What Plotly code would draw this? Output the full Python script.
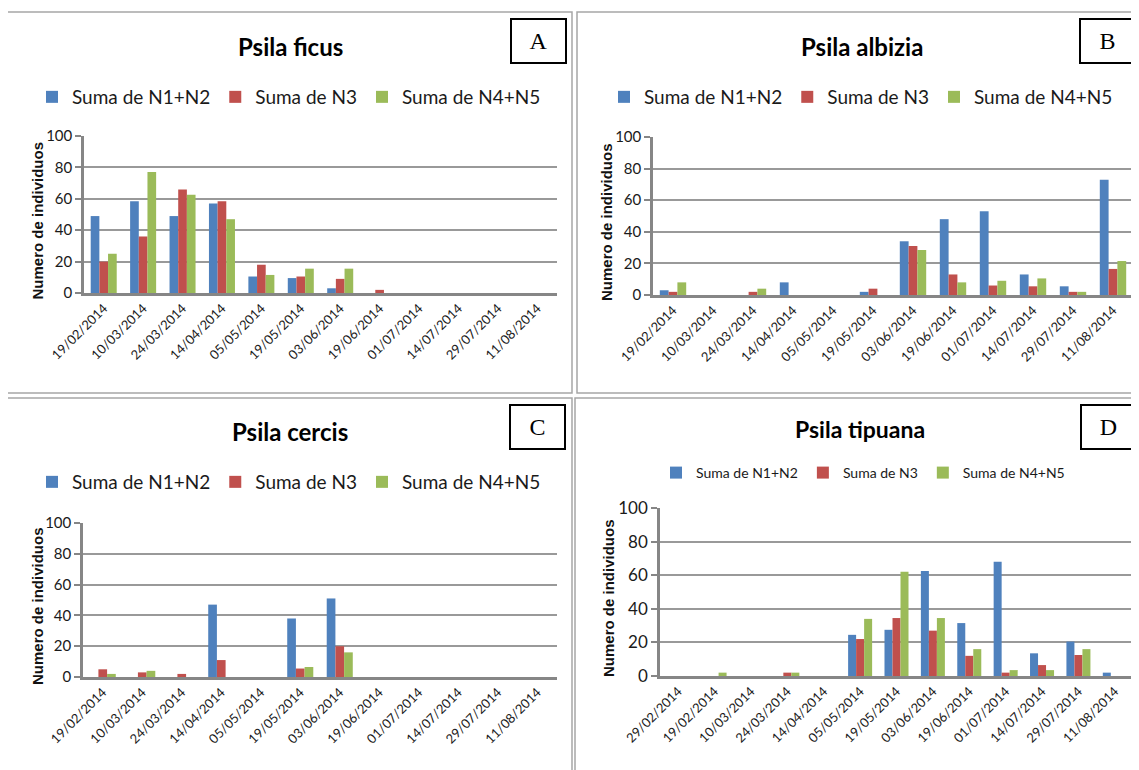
import plotly.graph_objects as go

W, H = 1139, 770
OFF = 8  # the page body adds an 8px margin around the figure

# ---------------- data ----------------
dates_abc = ["19/02/2014", "10/03/2014", "24/03/2014", "14/04/2014", "05/05/2014", "19/05/2014",
             "03/06/2014", "19/06/2014", "01/07/2014", "14/07/2014", "29/07/2014", "11/08/2014"]
dates_d = ["29/02/2014", "19/02/2014", "10/03/2014", "24/03/2014", "14/04/2014", "05/05/2014",
           "19/05/2014", "03/06/2014", "19/06/2014", "01/07/2014", "14/07/2014", "29/07/2014", "11/08/2014"]

series_names = ["Suma de N1+N2", "Suma de N3", "Suma de N4+N5"]
y_ticks = [0, 20, 40, 60, 80, 100]

ficus_n1n2 = [49, 58.5, 49, 57, 10.5, 9.5, 3, 0, 0, 0, 0, 0]
ficus_n3 = [20, 36, 66, 58.5, 18, 10.5, 9, 2, 0, 0, 0, 0]
ficus_n4n5 = [25, 77, 62.5, 47, 11.5, 15.5, 15.5, 0, 0, 0, 0, 0]

albizia_n1n2 = [3, 0, 0, 8, 0, 2, 34, 48, 53, 13, 5.5, 73]
albizia_n3 = [2, 0, 2, 0, 0, 4, 31, 13, 6, 5.5, 2, 16.5]
albizia_n4n5 = [8, 0, 4, 0, 0, 0, 28.5, 8, 9, 10.5, 2, 21.5]

cercis_n1n2 = [0, 0, 0, 47, 0, 38, 51, 0, 0, 0, 0, 0]
cercis_n3 = [5, 3, 2, 11, 0, 5.5, 20, 0, 0, 0, 0, 0]
cercis_n4n5 = [2, 4, 0, 0, 0, 6.5, 16, 0, 0, 0, 0, 0]

tipuana_n1n2 = [0, 0, 0, 0, 0, 24.5, 27.5, 62.5, 31.5, 68, 13.5, 20.5, 2]
tipuana_n3 = [0, 0, 0, 2, 0, 22, 34.5, 27, 12, 2, 6.5, 12.5, 0]
tipuana_n4n5 = [0, 2, 0, 2, 0, 34, 62, 34.5, 16, 3.5, 3.5, 16, 0]

# ---------------- styling ----------------
colors = ["#4F81BD", "#C0504D", "#9BBB59"]
FONT = "Lato, Liberation Sans, Arial, sans-serif"
SANS = "Liberation Sans, Arial, sans-serif"
SERIF = "Liberation Serif, Times New Roman, serif"
GRID = "#999999"
AXIS = "#868686"


def px_x(v):
    return (v - OFF) / W


def px_y(v):
    return 1 - (v - OFF) / H


panels = [
    dict(title="Psila ficus", cats=dates_abc, vals=[ficus_n1n2, ficus_n3, ficus_n4n5],
         area=(84, 557, 136, 293), title_xy=(290, 46), title_size=24,
         letter="A", letter_xy=(538, 41.5), legend_xy=(32, 97), legend_size=19,
         tick_size=13, ytick_size=15, ytitle_x=37, frame=(7, 12, 572, 393)),
    dict(title="Psila albizia", cats=dates_abc, vals=[albizia_n1n2, albizia_n3, albizia_n4n5],
         area=(653, 1133, 137, 295), title_xy=(862, 46), title_size=24,
         letter="B", letter_xy=(1107, 41.5), legend_xy=(604, 97), legend_size=19,
         tick_size=13, ytick_size=15, ytitle_x=606, frame=(577, 12, 1150, 393)),
    dict(title="Psila cercis", cats=dates_abc, vals=[cercis_n1n2, cercis_n3, cercis_n4n5],
         area=(83, 557, 523, 677), title_xy=(290, 431), title_size=24,
         letter="C", letter_xy=(537, 427), legend_xy=(32, 482), legend_size=19,
         tick_size=13, ytick_size=15, ytitle_x=37, frame=(7, 398, 572, 790)),
    dict(title="Psila tipuana", cats=dates_d, vals=[tipuana_n1n2, tipuana_n3, tipuana_n4n5],
         area=(660, 1133, 508, 676), title_xy=(860, 429), title_size=23,
         letter="D", letter_xy=(1108, 427), legend_xy=(656, 473), legend_size=14,
         tick_size=13, ytick_size=17, ytitle_x=608, frame=(575, 398, 1150, 790)),
]

fig = go.Figure()
layout = dict(
    width=W, height=H, margin=dict(l=0, r=0, t=0, b=0, autoexpand=False),
    paper_bgcolor="white", plot_bgcolor="white",
    barmode="group", bargap=0.34, bargroupgap=0,
    showlegend=True, annotations=[], shapes=[],
)

for i, p in enumerate(panels):
    n = i + 1
    xa = "x" if n == 1 else f"x{n}"
    ya = "y" if n == 1 else f"y{n}"
    lg = "legend" if n == 1 else f"legend{n}"
    for s in range(3):
        fig.add_trace(go.Bar(
            x=p["cats"], y=p["vals"][s], name=series_names[s],
            marker=dict(color=colors[s], line=dict(width=0)),
            xaxis=xa, yaxis=ya, legend=lg,
        ))
    x0, x1, y0, y1 = p["area"]
    layout["xaxis" if n == 1 else f"xaxis{n}"] = dict(
        domain=[px_x(x0), px_x(x1)], anchor=ya, type="category", automargin=False,
        categoryorder="array", categoryarray=p["cats"],
        showline=True, linecolor=AXIS, linewidth=2.5, showgrid=False,
        ticks="", tickangle=-45,
        tickfont=dict(family=FONT, size=p["tick_size"], color="#1a1a1a"),
    )
    layout["yaxis" if n == 1 else f"yaxis{n}"] = dict(
        domain=[px_y(y1), px_y(y0)], anchor=xa, range=[0, 100], automargin=False,
        tickvals=y_ticks, showline=True, linecolor=AXIS, linewidth=2.5,
        showgrid=True, gridcolor=GRID, gridwidth=1.5, zeroline=False,
        ticks="outside", ticklen=6, tickcolor=AXIS, tickwidth=1.5,
        tickfont=dict(family=FONT, size=p["ytick_size"], color="#1a1a1a"),
    )
    # y-axis title
    layout["annotations"].append(dict(
        text="<b>Numero de individuos</b>", textangle=-90,
        x=px_x(p["ytitle_x"]), y=px_y((y0 + y1) / 2 + 6), xref="paper", yref="paper",
        showarrow=False, xanchor="center", yanchor="middle",
        font=dict(family=SANS, size=15, color="#111111"),
    ))
    lx, ly = p["legend_xy"]
    layout[lg] = dict(
        orientation="h", x=px_x(lx), y=px_y(ly), xanchor="left", yanchor="middle",
        bgcolor="rgba(0,0,0,0)", borderwidth=0,
        font=dict(family=FONT, size=p["legend_size"], color="#1a1a1a"),
        traceorder="normal",
    )
    tx, ty = p["title_xy"]
    layout["annotations"].append(dict(
        text=f"<b>{p['title']}</b>", x=px_x(tx), y=px_y(ty), xref="paper", yref="paper",
        showarrow=False, xanchor="center", yanchor="middle",
        font=dict(family=FONT, size=p["title_size"], color="#000000"),
    ))
    bx, by = p["letter_xy"]
    layout["annotations"].append(dict(
        text=p["letter"], x=px_x(bx), y=px_y(by), xref="paper", yref="paper",
        showarrow=False, xanchor="center", yanchor="middle",
        width=53, height=42, bordercolor="#000000", borderwidth=2, borderpad=0,
        bgcolor="white", font=dict(family=SERIF, size=24, color="#000000"),
    ))
    fx0, fy0, fx1, fy1 = p["frame"]
    layout["shapes"].append(dict(
        type="rect", xref="paper", yref="paper",
        x0=px_x(fx0), x1=px_x(fx1), y0=px_y(fy1), y1=px_y(fy0),
        line=dict(color="#A6A6A6", width=1.5), layer="below",
    ))

fig.update_layout(**layout)
fig.write_html("out.html")
